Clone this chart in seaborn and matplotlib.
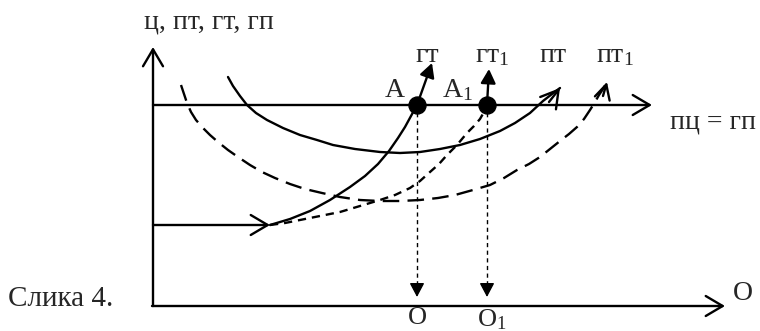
import matplotlib
matplotlib.use("Agg")
import matplotlib.pyplot as plt
import seaborn as sns
import pandas as pd

# --- curves (picture coords, y grows downwards) ---
pt_x = [228, 233, 240, 247, 256, 267, 283, 300, 317, 333, 355, 380, 400, 420,
        440, 460, 480, 500, 515, 530, 543, 552, 560]
pt_y = [77, 86, 96, 105, 113, 120, 128, 135, 140, 145, 149, 152, 153, 152,
        149, 145, 139, 131, 123, 113, 101, 94, 88]

pt1_x = [181, 184, 187, 191, 196, 203, 210, 218, 228, 238, 250, 262, 275, 290,
         305, 322, 340, 360, 380, 400, 420, 438, 455, 473, 490, 504, 517, 529,
         540, 550, 560, 569, 577, 584, 590, 595, 599, 603, 607]
pt1_y = [85, 94, 103, 112, 120, 128, 135, 142, 150, 157, 165, 172, 178, 184,
         189, 193, 197, 200, 201, 201, 200, 198, 195, 190, 185, 178, 170, 164,
         157, 149, 141, 134, 127, 119, 110, 102, 95, 89, 82]

gt_x = [270, 290, 310, 330, 350, 365, 378, 389, 398, 405, 411, 417]
gt_y = [225, 219, 211, 200, 187, 176, 164, 151, 138, 127, 116, 105]

gt1_x = [270, 285, 300, 320, 340, 360, 380, 395, 410, 420, 430, 439, 447, 457,
         467, 474, 480, 484, 487]
gt1_y = [225, 223, 220, 216, 212, 206, 200, 195, 188, 181, 172, 164, 155, 145,
         133, 126, 119, 112, 105]

# equilibrium points А, А1 on the price line
eq_x = [417, 487]
eq_y = [105, 105]
eq_names = ["А", "А$_1$"]
q_names = ["О", "О$_1$"]

price_y = 105      # пц = гп
start_y = 225      # horizontal line where гт starts
origin = (153, 306)

curves = pd.concat([
    pd.DataFrame({"x": pt_x, "y": pt_y, "curve": "пт"}),
    pd.DataFrame({"x": pt1_x, "y": pt1_y, "curve": "пт1"}),
    pd.DataFrame({"x": gt_x, "y": gt_y, "curve": "гт"}),
    pd.DataFrame({"x": gt1_x, "y": gt1_y, "curve": "гт1"}),
], ignore_index=True)

sns.set_style("white")
plt.rcParams["font.family"] = ["Liberation Serif", "DejaVu Serif"]
plt.rcParams["mathtext.fontset"] = "custom"
plt.rcParams["mathtext.rm"] = "Liberation Serif"
plt.rcParams["mathtext.it"] = "Liberation Serif:italic"
plt.rcParams["mathtext.default"] = "rm"

fig = plt.figure(figsize=(7.6, 3.31), dpi=100)
ax = fig.add_axes([0, 0, 1, 1])
ax.set_xlim(0, 760)
ax.set_ylim(331, 0)
ax.axis("off")

lw = 1.7
sns.lineplot(data=curves, x="x", y="y", hue="curve", style="curve",
             palette={c: "black" for c in ["пт", "пт1", "гт", "гт1"]},
             dashes={"пт": "", "пт1": (7, 3.5), "гт": "", "гт1": (3.5, 2.5)},
             sort=False, estimator=None, legend=False, lw=lw, ax=ax)

open_head = "->,head_length=1.22,head_width=0.72"
tri_head = "-|>,head_length=0.85,head_width=0.45"
ox, oy = origin

def arrow(tip, tail, style, width=lw, ls="-"):
    ax.annotate("", xy=tip, xytext=tail,
                arrowprops=dict(arrowstyle=style, color="black", lw=width, ls=ls,
                                shrinkA=0, shrinkB=0, mutation_scale=10))

# axes
arrow((ox, 47), (ox, oy), open_head)
arrow((725, oy), (ox - 1, oy), open_head)
# price line and start line
arrow((652, price_y), (ox, price_y), open_head)
arrow((270, start_y), (ox, start_y), open_head)
# heads of пт, пт1
arrow((pt_x[-1], pt_y[-1]), (549, 102), open_head)
arrow((pt1_x[-1], pt1_y[-1]), (603, 96), "->,head_length=1.05,head_width=0.55")
# гт, гт1 continue above A, A1
arrow((432, 63), (eq_x[0], eq_y[0]), tri_head)
arrow((489, 69), (eq_x[1], eq_y[1]), tri_head)

# drop lines to quantities
for x in eq_x:
    ax.plot([x, x], [price_y, 284], color="black", lw=1.0, ls=(0, (3, 2.5)))
    arrow((x, 297), (x, 284), tri_head, width=1.0)

sns.scatterplot(x=eq_x, y=eq_y, color="black", s=150, edgecolor="black", ax=ax, zorder=5)

fs = 20
ax.text(209, 29, "ц, пт, гт, гп", fontsize=fs, ha="center", va="baseline")
ax.text(427, 62, "гт", fontsize=fs, ha="center", va="baseline")
ax.text(492, 62, "гт$_1$", fontsize=fs, ha="center", va="baseline")
ax.text(553, 62, "пт", fontsize=fs, ha="center", va="baseline")
ax.text(615, 62, "пт$_1$", fontsize=fs, ha="center", va="baseline")
ax.text(395, 97, eq_names[0], fontsize=fs, ha="center", va="baseline")
ax.text(457, 97, eq_names[1], fontsize=fs, ha="center", va="baseline")
ax.text(713, 128, "пц = гп", fontsize=fs, ha="center", va="baseline")
ax.text(743, 300, "О", fontsize=fs, ha="center", va="baseline")
for x, name in zip(eq_x, q_names):
    ax.text(x + (5 if "_" in name else 0), 307, name, fontsize=fs - 1, ha="center", va="top")
ax.text(8, 306, "Слика 4.", fontsize=21, ha="left", va="baseline")

fig.savefig("out.png", dpi=100)
